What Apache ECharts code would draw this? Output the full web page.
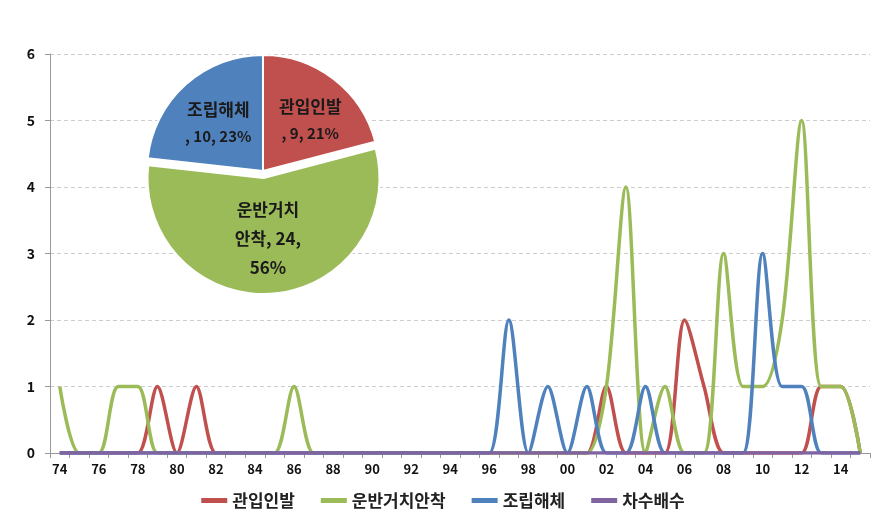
<!DOCTYPE html>
<html>
<head>
<meta charset="utf-8">
<script src="https://cdn.jsdelivr.net/npm/echarts@6/dist/echarts.min.js"></script>
<style>html,body{margin:0;padding:0;background:#fff}#c{width:886px;height:524px}</style>
</head>
<body>
<div id="c"></div>
<script>
var years = ['74','75','76','77','78','79','80','81','82','83','84','85','86','87','88','89','90','91','92','93','94','95','96','97','98','99','00','01','02','03','04','05','06','07','08','09','10','11','12','13','14','15'];
var seriesNames = ['관입인발','운반거치안착','조립해체','차수배수'];
//              74 75 76 77 78 79 80 81 82 83 84 85 86 87 88 89 90 91 92 93 94 95 96 97 98 99 00 01 02 03 04 05 06 07 08 09 10 11 12 13 14 15
var gwanip   = [0, 0, 0, 0, 0, 1, 0, 1, 0, 0, 0, 0, 0, 0, 0, 0, 0, 0, 0, 0, 0, 0, 0, 0, 0, 0, 0, 0, 1, 0, 0, 0, 2, 1, 0, 0, 0, 0, 0, 1, 1, 0];
var unban    = [1, 0, 0, 1, 1, 0, 0, 0, 0, 0, 0, 0, 1, 0, 0, 0, 0, 0, 0, 0, 0, 0, 0, 0, 0, 0, 0, 0, 1, 4, 0, 1, 0, 0, 3, 1, 1, 2, 5, 1, 1, 0];
var jorip    = [0, 0, 0, 0, 0, 0, 0, 0, 0, 0, 0, 0, 0, 0, 0, 0, 0, 0, 0, 0, 0, 0, 0, 2, 0, 1, 0, 1, 0, 0, 1, 0, 0, 0, 0, 0, 3, 1, 1, 0, 0, 0];
var chasu    = [0, 0, 0, 0, 0, 0, 0, 0, 0, 0, 0, 0, 0, 0, 0, 0, 0, 0, 0, 0, 0, 0, 0, 0, 0, 0, 0, 0, 0, 0, 0, 0, 0, 0, 0, 0, 0, 0, 0, 0, 0, 0];
var pieNames  = ['관입인발','운반거치안착','조립해체'];
var pieValues = [9, 24, 10];
var pieLabels = ['{a|관입인발}\n{b|, 9, 21%}','{a|운반거치}\n{a|안착, 24,}\n{a|56%}','{a|조립해체}\n{b|, 10, 23%}'];

var colors = ['#C0504D','#9BBB59','#4F81BD','#8064A2'];
var font = '"Noto Sans CJK KR", "Noto Sans", sans-serif';
var chart = echarts.init(document.getElementById('c'));
var lineData = [gwanip, unban, jorip, chasu];
var series = seriesNames.map(function(n,i){
  return {
    name: n, type: 'line', data: lineData[i], smooth: 0.3, symbol: 'none',
    lineStyle: {width: 3.5, color: colors[i]}, itemStyle: {color: colors[i]}
  };
});
var labelOffsets = [[10,-4],[0,0],[-4,-4]];
series.push({
  type: 'pie', center: [263, 171], radius: 116, startAngle: 90, clockwise: true,
  selectedMode: 'single', selectedOffset: 7, silent: true,
  itemStyle: {borderColor: '#fff', borderWidth: 2},
  label: {show: true, position: 'inner', color: '#1a1a1a', fontFamily: font, fontWeight: 'bold',
    formatter: function(p){ return pieLabels[p.dataIndex]; },
    rich: {
      a: {fontFamily: font, fontWeight: 'bold', fontSize: 17, lineHeight: 29, color: '#1a1a1a'},
      b: {fontFamily: font, fontWeight: 'bold', fontSize: 15, lineHeight: 25, color: '#1a1a1a'}
    }},
  labelLine: {show: false},
  data: pieNames.map(function(n,i){
    return {name: n, value: pieValues[i], itemStyle: {color: colors[i]}, selected: i===1,
      label: {offset: labelOffsets[i]}};
  })
});
chart.setOption({
  animation: false,
  color: colors,
  grid: {left: 50, right: 16, top: 54, bottom: 71, containLabel: false},
  legend: {
    data: seriesNames, bottom: 10, left: 'center', itemWidth: 26, itemHeight: 5, itemGap: 26,
    icon: 'rect',
    textStyle: {fontFamily: font, fontSize: 17, color: '#222', fontWeight: 'bold'}
  },
  xAxis: {
    type: 'category', data: years, boundaryGap: true,
    axisLine: {lineStyle: {color: '#999', width: 1}},
    axisTick: {show: true, interval: 0, length: 5, lineStyle: {color: '#999'}},
    axisLabel: {interval: 1, color: '#111', fontFamily: font, fontWeight: 'bold', fontSize: 13, margin: 10},
    splitLine: {show: false}
  },
  yAxis: {
    type: 'value', min: 0, max: 6, interval: 1,
    axisLine: {show: true, lineStyle: {color: '#999'}},
    axisTick: {show: true, length: 5, lineStyle: {color: '#999'}},
    axisLabel: {color: '#111', fontFamily: font, fontWeight: 'bold', fontSize: 14, margin: 15},
    splitLine: {show: true, lineStyle: {color: '#ccc', type: [4,3]}}
  },
  series: series
});
</script>
</body>
</html>
